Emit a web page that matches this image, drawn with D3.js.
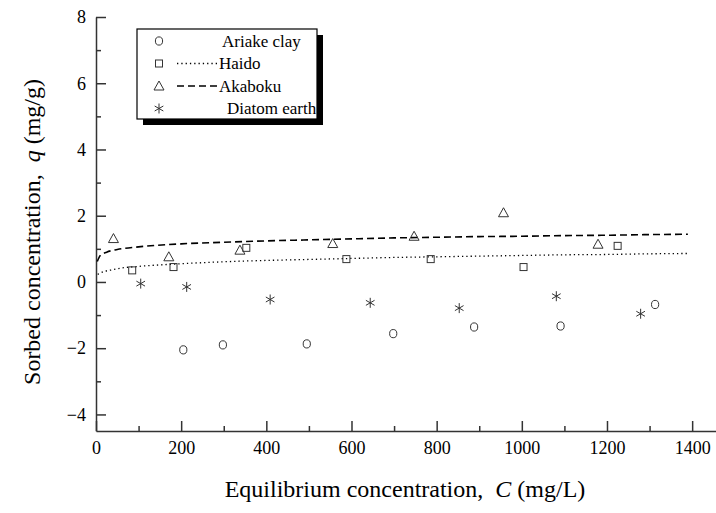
<!DOCTYPE html>
<html>
<head>
<meta charset="utf-8">
<script src="https://cdn.jsdelivr.net/npm/d3@7/dist/d3.min.js"></script>
<style>
    body { margin: 0; background: #fff; }
    .axis path, .axis line { stroke: #333; stroke-width: 1.5; }
    .mark { fill: none; stroke: #333; stroke-width: 1; }
</style>
</head>
<body>
<div id="chart"></div>
<script>
// measured points
const ariakeC = [205, 298, 495, 698, 888, 1091, 1313];
const ariakeQ = [-2.05, -1.9, -1.87, -1.56, -1.36, -1.33, -0.68];
const haidoC = [85, 182, 353, 588, 786, 1004, 1225];
const haidoQ = [0.35, 0.45, 1.03, 0.69, 0.69, 0.45, 1.09];
const akabokuC = [41, 171, 338, 556, 747, 957, 1179];
const akabokuQ = [1.31, 0.76, 0.96, 1.16, 1.38, 2.09, 1.14];
const diatomC = [105, 213, 409, 644, 853, 1081, 1279];
const diatomQ = [-0.05, -0.15, -0.53, -0.63, -0.79, -0.43, -0.96];

// fitted curves
const fitHaidoC = [4, 20, 35, 60, 100, 200, 300, 400, 500, 600, 700, 800, 900, 1000, 1100, 1200, 1300, 1390];
const fitHaidoQ = [0.23, 0.32, 0.36, 0.42, 0.47, 0.55, 0.61, 0.65, 0.68, 0.71, 0.74, 0.76, 0.78, 0.80, 0.82, 0.83, 0.85, 0.86];
const fitAkabokuC = [3, 10, 25, 50, 100, 200, 300, 400, 500, 600, 700, 800, 900, 1000, 1100, 1200, 1300, 1390];
const fitAkabokuQ = [0.62, 0.80, 0.90, 0.98, 1.06, 1.15, 1.20, 1.24, 1.27, 1.30, 1.33, 1.35, 1.37, 1.38, 1.40, 1.41, 1.43, 1.44];

const xMajor = [0, 200, 400, 600, 800, 1000, 1200, 1400];
const xMinor = [100, 300, 500, 700, 900, 1100, 1300];
const yMajor = [-4, -2, 0, 2, 4, 6, 8];
const yMinor = [-3, -1, 1, 3, 5, 7];

const legendNames = ["Ariake clay", "Haido", "Akaboku", "Diatom earth"];

const serif = "Liberation Serif";
const width = 716, height = 513;
const svg = d3.select("#chart").append("svg")
    .attr("width", width)
    .attr("height", height)
    .attr("font-family", serif);

const x = d3.scaleLinear().domain([0, 1456]).range([96, 716]);
const y = d3.scaleLinear().domain([-4.5, 8]).range([431, 17]);

// axes
svg.append("g")
    .attr("class", "axis")
    .attr("transform", `translate(0,${y(-4.5)})`)
    .call(d3.axisBottom(x).tickValues(xMajor).tickSize(-10).tickSizeOuter(0).tickPadding(5).tickFormat(d3.format("d")))
    .call(g => g.selectAll("text").attr("dy", "1.0em"));

svg.append("g")
    .attr("class", "axis")
    .attr("transform", `translate(0,${y(-4.5)})`)
    .call(d3.axisBottom(x).tickValues(xMinor).tickSize(-5).tickSizeOuter(0).tickFormat(""))
    .call(g => g.select(".domain").remove());

svg.append("g")
    .attr("class", "axis")
    .attr("transform", `translate(${x(0)},0)`)
    .call(d3.axisLeft(y).tickValues(yMajor).tickSize(-10).tickSizeOuter(0).tickPadding(10).tickFormat(d3.format("d")));

svg.append("g")
    .attr("class", "axis")
    .attr("transform", `translate(${x(0)},0)`)
    .call(d3.axisLeft(y).tickValues(yMinor).tickSize(-5).tickSizeOuter(0).tickFormat(""))
    .call(g => g.select(".domain").remove());

svg.selectAll(".axis")
    .attr("font-family", serif)
    .attr("font-size", 18);
svg.selectAll(".axis text")
    .attr("font-family", serif)
    .attr("font-size", 18)
    .attr("fill", "#000");

// fitted lines
const line = d3.line()
    .x(d => x(d[0]))
    .y(d => y(d[1]))
    .curve(d3.curveMonotoneX);

svg.append("path")
    .datum(d3.zip(fitHaidoC, fitHaidoQ))
    .attr("d", line)
    .attr("fill", "none")
    .attr("stroke", "#000")
    .attr("stroke-width", 1.3)
    .attr("stroke-dasharray", "1.3,3");

svg.append("path")
    .datum(d3.zip(fitAkabokuC, fitAkabokuQ))
    .attr("d", line)
    .attr("fill", "none")
    .attr("stroke", "#000")
    .attr("stroke-width", 1.6)
    .attr("stroke-dasharray", "7,4");

// marker drawers
function drawCircle(g, cx, cy) {
    g.append("ellipse").attr("class", "mark")
        .attr("cx", cx).attr("cy", cy).attr("rx", 3.6).attr("ry", 4.1);
}
function drawSquare(g, cx, cy) {
    g.append("rect").attr("class", "mark")
        .attr("x", cx - 3.5).attr("y", cy - 3.5).attr("width", 7).attr("height", 7);
}
function drawTriangle(g, cx, cy) {
    g.append("path").attr("class", "mark")
        .attr("d", `M${cx},${cy - 5}L${cx + 5},${cy + 4}L${cx - 5},${cy + 4}Z`);
}
function drawStar(g, cx, cy) {
    const r = 5, a = r * Math.cos(Math.PI / 6), b = r * 0.5;
    g.append("path").attr("class", "mark")
        .attr("stroke-width", 1.1)
        .attr("d", `M${cx},${cy - r}V${cy + r}M${cx - a},${cy - b}L${cx + a},${cy + b}M${cx - a},${cy + b}L${cx + a},${cy - b}`);
}

const marks = svg.append("g");
d3.zip(ariakeC, ariakeQ).forEach(d => drawCircle(marks, x(d[0]), y(d[1])));
d3.zip(haidoC, haidoQ).forEach(d => drawSquare(marks, x(d[0]), y(d[1])));
d3.zip(akabokuC, akabokuQ).forEach(d => drawTriangle(marks, x(d[0]), y(d[1])));
d3.zip(diatomC, diatomQ).forEach(d => drawStar(marks, x(d[0]), y(d[1])));

// legend
const legend = svg.append("g");
legend.append("rect")
    .attr("x", 143).attr("y", 35).attr("width", 180).attr("height", 90)
    .attr("fill", "#000");
legend.append("rect")
    .attr("x", 137).attr("y", 29).attr("width", 180).attr("height", 90)
    .attr("fill", "#fff").attr("stroke", "#000").attr("stroke-width", 1.2);

const rowY = [41, 63.5, 86, 108.5];
const textX = [222, 219, 219, 227];
const drawers = [drawCircle, drawSquare, drawTriangle, drawStar];
legendNames.forEach((name, i) => {
    drawers[i](legend, 159, rowY[i]);
    legend.append("text")
        .attr("x", textX[i]).attr("y", rowY[i] + 5.5)
        .attr("font-family", serif)
        .attr("font-size", 17)
        .text(name);
});
legend.append("line")
    .attr("x1", 177).attr("x2", 217).attr("y1", rowY[1]).attr("y2", rowY[1])
    .attr("stroke", "#000").attr("stroke-width", 1.3).attr("stroke-dasharray", "1.3,3");
legend.append("line")
    .attr("x1", 177).attr("x2", 217).attr("y1", rowY[2]).attr("y2", rowY[2])
    .attr("stroke", "#000").attr("stroke-width", 1.6).attr("stroke-dasharray", "7,4");

// axis titles
const xt = svg.append("text")
    .attr("x", 405).attr("y", 497)
    .attr("text-anchor", "middle")
    .attr("font-family", serif)
    .attr("font-size", 24);
xt.append("tspan").text("Equilibrium concentration,\u00a0\u00a0");
xt.append("tspan").attr("font-style", "italic").text("C");
xt.append("tspan").text(" (mg/L)");

const yt = svg.append("text")
    .attr("transform", "translate(40,232) rotate(-90)")
    .attr("text-anchor", "middle")
    .attr("font-family", serif)
    .attr("font-size", 24);
yt.append("tspan").text("Sorbed concentration,\u00a0\u00a0");
yt.append("tspan").attr("font-style", "italic").text("q");
yt.append("tspan").text(" (mg/g)");
</script>
</body>
</html>
